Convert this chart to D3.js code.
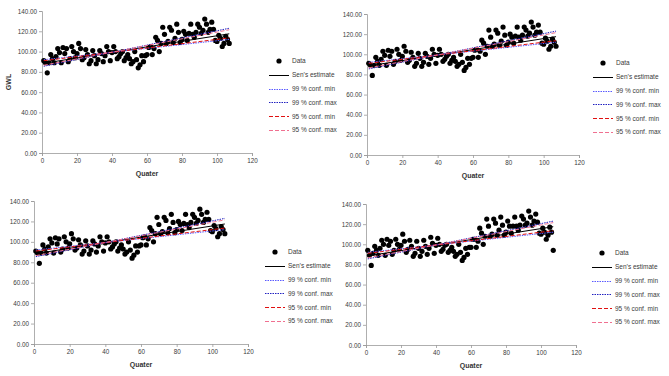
<!DOCTYPE html>
<html>
<head>
<meta charset="utf-8">
<script src="https://cdn.jsdelivr.net/npm/d3@7"></script>
<style>
  body { margin: 0; background: #fff; }
  svg { display: block; font-family: 'Liberation Sans', Arial, sans-serif; }
  .tick-label { font-size: 6.3px; fill: #3a3a3a; }
  .axis-title { font-size: 7px; font-weight: bold; fill: #333333; }
  .legend-text { font-size: 6.5px; fill: #3a3a3a; }
</style>
</head>
<body>
<div id="chart"></div>
<script>
'use strict';

// quarterly GWL readings, quarters 1..107
var gwlA = [91, 89, 79, 89, 97, 93, 89, 95, 103, 99, 89, 104, 98, 103, 90, 93, 105, 100, 94, 98,
	108, 103, 92, 94, 102, 97, 88, 91, 101, 96, 88, 92, 101, 98, 90, 96, 105, 100, 91, 99,
	105, 100, 93, 95, 98, 100, 91, 94, 97, 93, 88, 90, 100, 92, 84, 87, 96, 90, 96, 97,
	104, 105, 97, 103, 114, 111, 100, 108, 124, 117, 108, 110, 124, 121, 109, 113, 127, 119, 109, 112,
	120, 117, 111, 118, 127, 117, 114, 119, 127, 124, 118, 121, 132, 127, 119, 122, 129, 122, 111, 110,
	116, 113, 105, 108, 115, 112, 108];

// bottom right panel ends on a low reading
var gwlB = [94, 89, 79, 91, 98, 94, 89, 96, 104, 100, 89, 105, 99, 103, 90, 94, 105, 100, 95, 99,
	110, 103, 92, 95, 104, 98, 88, 91, 103, 96, 88, 93, 104, 98, 90, 96, 107, 101, 91, 99,
	106, 100, 93, 95, 99, 100, 92, 94, 97, 93, 88, 90, 100, 92, 84, 87, 96, 90, 97, 97,
	105, 105, 97, 103, 116, 111, 100, 108, 125, 118, 108, 110, 125, 121, 109, 114, 127, 119, 109, 112,
	123, 118, 111, 118, 127, 118, 114, 119, 128, 125, 119, 121, 133, 127, 119, 123, 130, 122, 111, 110,
	116, 112, 105, 109, 117, 112, 94];

// trend lines, start and end quarter
var lineX = [1, 107];
var senY = [88.5, 117.5];
var conf99MinY = [92, 112];
var conf99MaxY = [85.5, 123];
var conf95MinY = [91, 113.5];
var conf95MaxY = [86.5, 121.5];

var xTicks = [0, 20, 40, 60, 80, 100, 120];
var yTicks = [0, 20, 40, 60, 80, 100, 120, 140];

var legendLabels = ['Data', 'Sen\u2019s estimate', '99 % conf. min', '99 % conf. max', '95 % conf. min', '95 % conf. max'];

var trendLines = [
	{y: senY, color: '#000000', dash: null},
	{y: conf99MinY, color: '#5a5aff', dash: '1.5,1'},
	{y: conf99MaxY, color: '#2020c0', dash: '1.5,1'},
	{y: conf95MinY, color: '#e01010', dash: '4,2'},
	{y: conf95MaxY, color: '#f07090', dash: '4,2'}
];

var panels = [
	{data: gwlA, left: 42, right: 252, top: 11, bottom: 153, legX: 279, legY: 61, yTitle: true},
	{data: gwlA, left: 367, right: 579, top: 14, bottom: 155, legX: 603, legY: 63, yTitle: false},
	{data: gwlA, left: 34, right: 248, top: 201, bottom: 344, legX: 275, legY: 252, yTitle: false},
	{data: gwlB, left: 366, right: 576, top: 204, bottom: 345, legX: 602, legY: 253, yTitle: false}
];

var svg = d3.select('#chart').append('svg')
	.attr('width', 669)
	.attr('height', 376);

function drawPanel(p){

	var g = svg.append('g');

	var xScale = d3.scaleLinear().domain([0, 120]).range([p.left, p.right]);
	var yScale = d3.scaleLinear().domain([0, 140]).range([p.bottom, p.top]);

	/////////////// AXES ///////////////
	var xAxis = d3.axisBottom(xScale).tickValues(xTicks).tickSize(3).tickFormat(d3.format('d'));
	var yAxis = d3.axisLeft(yScale).tickValues(yTicks).tickSize(3).tickFormat(d3.format('.2f'));

	var gx = g.append('g')
		.attr('transform', 'translate(0,' + p.bottom + ')')
		.call(xAxis);
	var gy = g.append('g')
		.attr('transform', 'translate(' + p.left + ',0)')
		.call(yAxis);

	[gx, gy].forEach(function(a){
		a.select('.domain').attr('stroke', '#9a9a9a').attr('stroke-width', 0.8);
		a.selectAll('.tick line').attr('stroke', '#9a9a9a').attr('stroke-width', 0.8);
		a.selectAll('.tick text')
			.attr('class', 'tick-label')
			.attr('font-family', null)
			.attr('font-size', null)
			.attr('fill', null);
	});
	gx.selectAll('.tick text').attr('y', 6);
	gy.selectAll('.tick text').attr('x', -5);

	g.append('text')
		.attr('class', 'axis-title')
		.attr('x', (p.left + p.right) / 2)
		.attr('y', p.bottom + 23)
		.attr('text-anchor', 'middle')
		.text('Quater');

	if(p.yTitle){
		g.append('text')
			.attr('class', 'axis-title')
			.attr('transform', 'translate(' + (p.left - 31) + ',' + ((p.top + p.bottom) / 2) + ') rotate(-90)')
			.attr('text-anchor', 'middle')
			.text('GWL');
	}

	/////////////// POINTS ///////////////
	g.append('g').selectAll('circle')
		.data(p.data)
		.enter().append('circle')
		.attr('cx', function(d, i){ return xScale(i + 1); })
		.attr('cy', function(d){ return yScale(d); })
		.attr('r', 2.6)
		.attr('fill', '#000');

	/////////////// TREND LINES ///////////////
	var line = d3.line()
		.x(function(d){ return xScale(d[0]); })
		.y(function(d){ return yScale(d[1]); });

	g.append('g').selectAll('path')
		.data(trendLines)
		.enter().append('path')
		.attr('d', function(t){ return line(lineX.map(function(x, i){ return [x, t.y[i]]; })); })
		.attr('fill', 'none')
		.attr('stroke', function(t){ return t.color; })
		.attr('stroke-width', 1)
		.attr('stroke-dasharray', function(t){ return t.dash; });

	/////////////// LEGEND ///////////////
	var step = 13.8;
	var leg = g.append('g');

	leg.append('circle')
		.attr('cx', p.legX)
		.attr('cy', p.legY)
		.attr('r', 2.6)
		.attr('fill', '#000');

	trendLines.forEach(function(t, i){
		var yy = Math.round(p.legY + step * (i + 1)) + 0.5;
		leg.append('line')
			.attr('x1', p.legX - 10)
			.attr('x2', p.legX + 10)
			.attr('y1', yy)
			.attr('y2', yy)
			.attr('stroke', t.color)
			.attr('stroke-width', 1)
			.attr('stroke-dasharray', t.dash);
	});

	leg.selectAll('text')
		.data(legendLabels)
		.enter().append('text')
		.attr('class', 'legend-text')
		.attr('x', p.legX + 13)
		.attr('y', function(d, i){ return p.legY + step * i + 2.3; })
		.text(function(d){ return d; });
}

panels.forEach(drawPanel);
</script>
</body>
</html>
